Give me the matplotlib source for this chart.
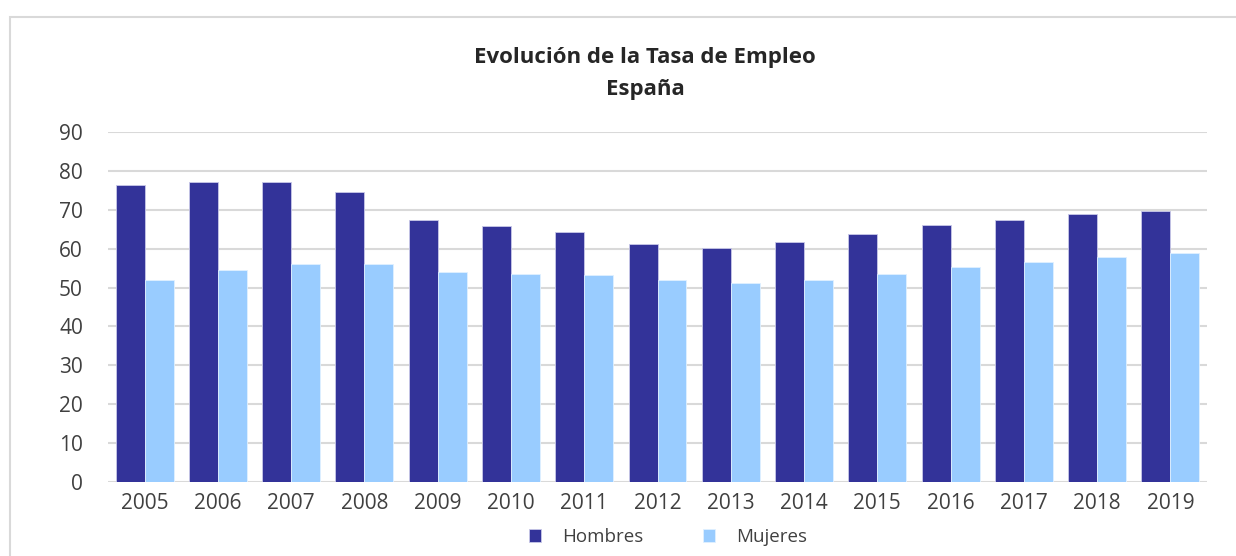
import numpy as np
import matplotlib.pyplot as plt
from matplotlib.patches import Rectangle

# Datos
years = ['2005', '2006', '2007', '2008', '2009', '2010', '2011', '2012',
         '2013', '2014', '2015', '2016', '2017', '2018', '2019']
hombres = [76.4, 77.2, 77.2, 74.5, 67.5, 65.8, 64.2, 61.1,
           60.2, 61.6, 63.9, 66.0, 67.5, 69.0, 69.8]
mujeres = [51.9, 54.4, 56.0, 56.1, 53.9, 53.5, 53.3, 52.0,
           51.1, 51.9, 53.5, 55.2, 56.5, 57.8, 58.8]

plt.rcParams['font.family'] = ['Open Sans', 'DejaVu Sans']

W, H = 1236, 556
fig = plt.figure(figsize=(W / 100, H / 100), dpi=100)
ax = fig.add_axes([108 / W, 74 / H, 1099 / W, 350 / H])

# Marco del gráfico
fig.patches.append(Rectangle((10 / W, -0.1), 1.2, 1 - 17 / H + 0.1,
                             transform=fig.transFigure, fill=False,
                             edgecolor='#d9d9d9', linewidth=1.5))

x = np.arange(len(years))
w = 0.395
ax.bar(x - w / 2, hombres, w, color='#333399', edgecolor='#c8c8e8',
       linewidth=0.6, label='Hombres', zorder=3)
ax.bar(x + w / 2, mujeres, w, color='#99ccff', edgecolor='#e0f0ff',
       linewidth=0.6, label='Mujeres', zorder=3)

ax.set_xlim(-0.5, len(years) - 0.5)
ax.set_ylim(0, 90)
ax.set_yticks(range(0, 91, 10))
ax.set_xticks(x)
ax.set_xticklabels(years)
ax.grid(axis='y', color='#d9d9d9', linewidth=1.5, zorder=0)
for s in ax.spines.values():
    s.set_visible(False)
ax.tick_params(axis='both', length=0, labelsize=15, colors='#404040')
ax.tick_params(axis='y', pad=18)
ax.tick_params(axis='x', pad=8)

fig.text(645 / W, 1 - 57 / H, 'Evolución de la Tasa de Empleo',
         ha='center', va='center', fontsize=16, fontweight='bold',
         color='#262626')
fig.text(645 / W, 1 - 89 / H, 'España', ha='center', va='center',
         fontsize=16, fontweight='bold', color='#262626')

fig.legend(loc='center', bbox_to_anchor=(668 / W, 1 - 537 / H), ncol=2,
           frameon=False, fontsize=13.5, labelcolor='#404040',
           handlelength=0.65, handleheight=0.65, columnspacing=3.2,
           handletextpad=1.1)

fig.savefig('out.png', dpi=100)
